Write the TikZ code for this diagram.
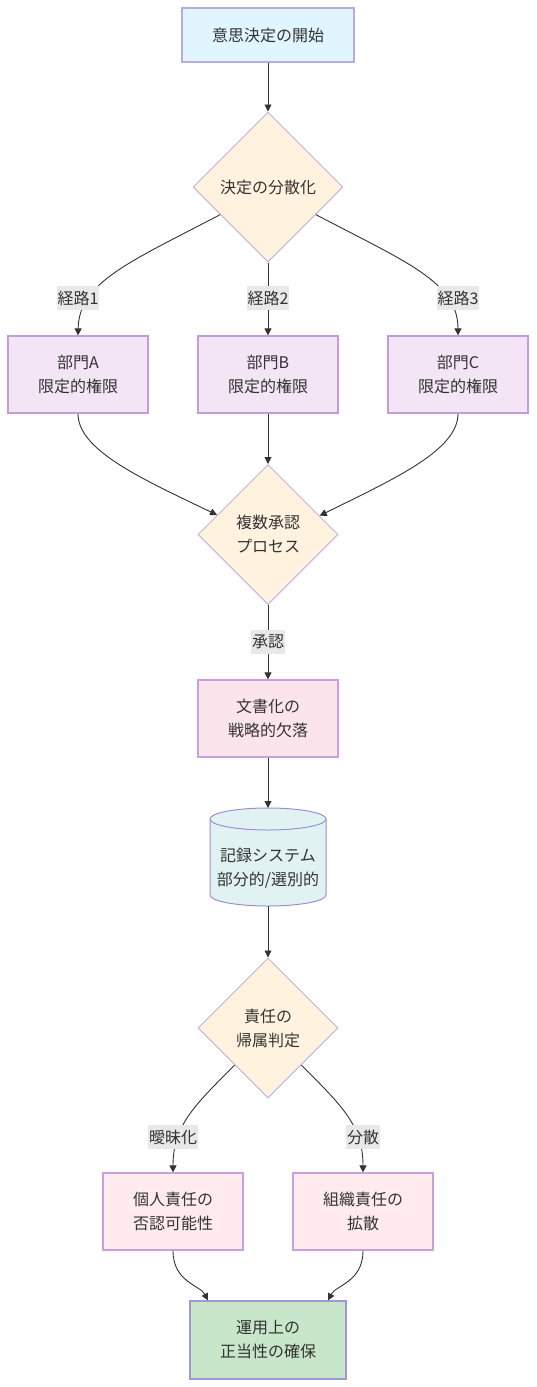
\documentclass[tikz,border=0pt]{standalone}
\usepackage{fontspec}
\setmainfont{Noto Sans CJK JP}
\usetikzlibrary{arrows.meta,shapes.geometric,calc}
\definecolor{txt}{HTML}{333333}
\definecolor{edge}{HTML}{333333}
\definecolor{lblbg}{HTML}{E8E8E8}
\definecolor{startfill}{HTML}{E1F5FE}
\definecolor{startdraw}{HTML}{B4AEE0}
\definecolor{decfill}{HTML}{FFF3E0}
\definecolor{decdraw}{HTML}{C4B4D8}
\definecolor{deptfill}{HTML}{F3E5F5}
\definecolor{deptdraw}{HTML}{C49CDC}
\definecolor{docfill}{HTML}{FCE4EC}
\definecolor{docdraw}{HTML}{C9A0DC}
\definecolor{cylfill}{HTML}{E0F2F1}
\definecolor{cyldraw}{HTML}{9B90D8}
\definecolor{respfill}{HTML}{FFEBEE}
\definecolor{respdraw}{HTML}{C9A0DC}
\definecolor{endfill}{HTML}{C8E6C9}
\definecolor{enddraw}{HTML}{A096D8}
\begin{document}
\begin{tikzpicture}[x=1pt,y=-1pt,
  every node/.style={font=\fontsize{16}{24}\selectfont, text=txt, align=center, inner sep=0pt},
  boxbase/.style={rectangle, line width=1.2pt, minimum height=77pt},
  startbox/.style={boxbase, draw=startdraw, fill=startfill, minimum width=172pt, minimum height=54pt},
  deptbox/.style={boxbase, draw=deptdraw, fill=deptfill, minimum width=140pt},
  docbox/.style={boxbase, draw=docdraw, fill=docfill, minimum width=140pt},
  respbox/.style={boxbase, draw=respdraw, fill=respfill, minimum width=140pt},
  endbox/.style={boxbase, draw=enddraw, fill=endfill, minimum width=156pt, minimum height=78pt},
  decbig/.style={diamond, aspect=1, draw=decdraw, fill=decfill, line width=1pt, minimum width=150pt, minimum height=150pt},
  decsmall/.style={diamond, aspect=1, draw=decdraw, fill=decfill, line width=1pt, minimum width=140pt, minimum height=140pt},
  elabel/.style={fill=lblbg, minimum height=24pt, inner xsep=1pt},
  arr/.style={draw=edge, line width=0.9pt, -{Triangle[length=7pt,width=7pt]}}
]
\useasboundingbox (0,0) rectangle (536,1387);

% nodes
\node[startbox] (start) at (268,35) {意思決定の開始};
\node[decbig] (d1) at (268,187) {決定の分散化};
\node[deptbox] (a) at (78,374.5) {部門A\\限定的権限};
\node[deptbox] (b) at (268,374.5) {部門B\\限定的権限};
\node[deptbox] (c) at (458,374.5) {部門C\\限定的権限};
\node[decsmall] (d2) at (268,534.5) {複数承認\\プロセス};
\node[docbox] (doc) at (268,718.5) {文書化の\\戦略的欠落};

% cylinder
\filldraw[fill=cylfill, draw=cyldraw, line width=1pt]
  (210,819) -- (210,895) arc[start angle=180,end angle=0,x radius=58,y radius=11]
  -- (326,819) arc[start angle=0,end angle=-180,x radius=58,y radius=11] -- cycle;
\draw[draw=cyldraw, line width=1pt] (210,819) arc[start angle=180,end angle=0,x radius=58,y radius=11];
\node (cyl) at (268,868) {記録システム\\部分的/選別的};
\coordinate (cyltop) at (268,808);
\coordinate (cylbot) at (268,906);

\node[decsmall] (d3) at (268,1028) {責任の\\帰属判定};
\node[respbox] (p) at (173,1211.5) {個人責任の\\否認可能性};
\node[respbox] (o) at (363,1211.5) {組織責任の\\拡散};
\node[endbox] (fin) at (268,1340) {運用上の\\正当性の確保};

% edges
\draw[arr] (start.south) -- (d1.north);
\draw[arr] (d1.210.8) .. controls (130,262) and (79,282) .. (a.north);
\draw[arr] (d1.south) -- (b.north);
\draw[arr] (d1.-30.8) .. controls (406,262) and (458,282) .. (c.north);
\node[elabel] (l1) at (78,298) {経路1};
\node[elabel] (l2) at (268,298) {経路2};
\node[elabel] (l3) at (458,298) {経路3};

\draw[arr] (a.south) .. controls (78,450) and (140,478) .. (d2.159.6);
\draw[arr] (b.south) -- (d2.north);
\draw[arr] (c.south) .. controls (458,450) and (396,478) .. (d2.20.4);

\draw[arr] (d2.south) -- (doc.north);
\node[elabel] (l4) at (268,642) {承認};

\draw[arr] (doc.south) -- (cyltop);
\draw[arr] (cylbot) -- (d3.north);

\draw[arr] (d3.228.3) .. controls (195,1105) and (173,1125) .. (p.north);
\draw[arr] (d3.-48.3) .. controls (341,1105) and (363,1125) .. (o.north);
\node[elabel] (l5) at (173,1137) {曖昧化};
\node[elabel] (l6) at (363,1137) {分散};

\draw[arr] (p.south) .. controls (173,1282) and (200,1285) .. ($(fin.north)+(-60,0)$);
\draw[arr] (o.south) .. controls (363,1282) and (336,1285) .. ($(fin.north)+(60,0)$);
\end{tikzpicture}
\end{document}
